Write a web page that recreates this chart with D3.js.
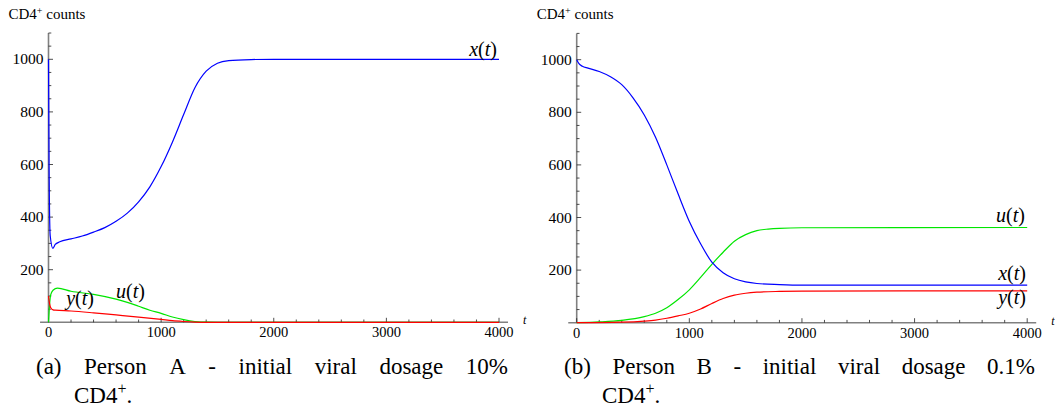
<!DOCTYPE html>
<html>
<head>
<meta charset="utf-8">
<script src="https://cdn.jsdelivr.net/npm/d3@7"></script>
<style>
  body { margin: 0; background: #fff; }
  svg { display: block; }
  text { font-family: "Liberation Serif", "Times New Roman", serif; }
</style>
</head>
<body>
<div id="chart"></div>
<script>
// Person A - initial viral dosage 10%  ([t, value] pairs)
const aX = [[0,1000],[5,600],[15,330],[39,281],[60,296],[100,306],[200,317],[300,328],[400,343],[500,360],[600,384],[700,415],[800,458],[900,515],[1000,592],[1100,685],[1200,790],[1300,892],[1400,955],[1500,985],[1600,995],[1800,999],[2000,1000],[4000,1000]];
const aU = [[0,0],[10,70],[20,105],[40,122],[80,130],[200,118],[400,106],[600,88],[700,76],[800,61],[900,46],[1000,34],[1100,20],[1200,10],[1300,3],[1400,0.5],[1500,0],[4000,0]];
const aY = [[0,100],[10,70],[20,55],[40,47],[60,46],[200,43],[400,36],[600,28],[800,20],[1000,11],[1100,6],[1200,3],[1300,1],[1400,0],[4000,0]];

// Person B - initial viral dosage 0.1%
const bX = [[0,1000],[20,985],[50,975],[100,968],[200,955],[300,935],[400,905],[500,855],[600,790],[700,705],[800,600],[900,490],[1000,385],[1100,300],[1200,230],[1300,190],[1400,167],[1500,155],[1600,149],[1800,145],[2000,143],[4000,143]];
const bU = [[0,0],[200,3],[400,9],[600,23],[700,36],[800,57],[900,88],[1000,125],[1100,172],[1200,222],[1300,268],[1400,310],[1500,335],[1600,350],[1700,356],[1800,359],[2000,361],[4000,362]];
const bY = [[0,0],[400,2],[600,6],[700,10],[800,17],[900,26],[1000,36],[1100,52],[1200,73],[1300,92],[1400,105],[1500,112],[1600,116],[1800,119],[2000,120],[4000,121]];

const xMajor = [0, 1000, 2000, 3000, 4000];
const yMajor = [200, 400, 600, 800, 1000];
const captionA = ['(a)', 'Person', 'A', '-', 'initial', 'viral', 'dosage', '10%'];
const captionB = ['(b)', 'Person', 'B', '-', 'initial', 'viral', 'dosage', '0.1%'];

const W = 1055, H = 410;

const svg = d3.select('#chart').append('svg')
    .attr('width', W).attr('height', H)
    .attr('viewBox', `0 0 ${W} ${H}`);

function fnLabel(g, x, y, name) {
    // italic name, upright parens, italic t
    const t = g.append('text')
        .attr('x', x).attr('y', y)
        .attr('text-anchor', 'end')
        .attr('font-size', 20);
    t.append('tspan').attr('font-style', 'italic').text(name);
    t.append('tspan').text('(');
    t.append('tspan').attr('font-style', 'italic').text('t');
    t.append('tspan').text(')');
}

function drawPanel(cfg) {
    const g = svg.append('g');
    const x = d3.scaleLinear().domain([0, 4000]).range([cfg.x0, cfg.x0 + 450.5]);
    const y = d3.scaleLinear().domain([0, 1000]).range([cfg.yBase, cfg.yBase - 263]);

    const axisCol = '#808080';

    // x axis line
    g.append('line')
        .attr('x1', x(-75)).attr('x2', x(4080))
        .attr('y1', y(0)).attr('y2', y(0))
        .attr('stroke', axisCol).attr('stroke-width', 1.6);
    // y axis line
    g.append('line')
        .attr('x1', x(0)).attr('x2', x(0))
        .attr('y1', y(0)).attr('y2', y(1100))
        .attr('stroke', axisCol).attr('stroke-width', 1.6);

    // x ticks (point up, inward)
    g.selectAll('.xt')
        .data(d3.range(0, 4001, 200))
        .join('line')
            .attr('x1', d => x(d)).attr('x2', d => x(d))
            .attr('y1', y(0))
            .attr('y2', d => y(0) - (d % 1000 === 0 ? 4.5 : 2.8))
            .attr('stroke', '#222').attr('stroke-width', 0.8);
    g.selectAll('.xl')
        .data(xMajor)
        .join('text')
            .attr('x', d => x(d)).attr('y', y(0) + 15)
            .attr('text-anchor', 'middle')
            .attr('font-size', 14.5)
            .text(d => d);

    // y ticks (point right, inward)
    g.selectAll('.yt')
        .data(d3.range(50, 1101, 50))
        .join('line')
            .attr('x1', x(0))
            .attr('x2', d => x(0) + (d % 200 === 0 ? 4.5 : 2.8))
            .attr('y1', d => y(d)).attr('y2', d => y(d))
            .attr('stroke', '#222').attr('stroke-width', 0.8);
    g.selectAll('.yl')
        .data(yMajor)
        .join('text')
            .attr('x', x(0) - 5).attr('y', d => y(d) + 5)
            .attr('text-anchor', 'end')
            .attr('font-size', 15.5)
            .text(d => d);

    // axis titles
    const yt = g.append('text')
        .attr('x', cfg.x0 - 40).attr('y', 19)
        .attr('font-size', 15);
    yt.append('tspan').text('CD4');
    yt.append('tspan').attr('font-size', 10).attr('dy', -5).text('+');
    yt.append('tspan').attr('dy', 5).text(' counts');

    g.append('text')
        .attr('x', x(4000) + 24).attr('y', y(0) + 2)
        .attr('font-size', 12)
        .attr('font-style', 'italic')
        .text('t');

    // curves
    const line = d3.line()
        .x(d => x(d[0])).y(d => y(d[1]))
        .curve(d3.curveMonotoneX);
    const series = [
        { data: cfg.u, color: '#00e600' },
        { data: cfg.y, color: '#ff0000' },
        { data: cfg.x, color: '#0000ff' }
    ];
    g.selectAll('.curve')
        .data(series)
        .join('path')
            .attr('d', s => line(s.data))
            .attr('fill', 'none')
            .attr('stroke', s => s.color)
            .attr('stroke-width', 1.2);

    cfg.labels.forEach(l => fnLabel(g, l.px, l.py, l.name));

    // caption, justified across the panel
    const words = cfg.caption.map(w => g.append('text')
        .attr('y', 374)
        .attr('font-size', 23)
        .text(w));
    const widths = words.map(w => w.node().getComputedTextLength());
    const total = d3.sum(widths);
    const gap = (cfg.capRight - cfg.capLeft - total) / (words.length - 1);
    let cx = cfg.capLeft;
    words.forEach((w, i) => {
        w.attr('x', cx);
        cx += widths[i] + gap;
    });
    const c2 = g.append('text')
        .attr('x', cfg.capLeft + 38).attr('y', 403)
        .attr('font-size', 23);
    c2.append('tspan').text('CD4');
    c2.append('tspan').attr('font-size', 16).attr('dy', -9).text('+');
    c2.append('tspan').attr('dy', 9).text('.');
}

drawPanel({
    x0: 48.5, yBase: 322.3,
    x: aX, u: aU, y: aY,
    caption: captionA, capLeft: 36, capRight: 508,
    labels: [
        { name: 'x', px: 497, py: 56 },
        { name: 'u', px: 145, py: 298 },
        { name: 'y', px: 94, py: 305 }
    ]
});

drawPanel({
    x0: 576.7, yBase: 322.7,
    x: bX, u: bU, y: bY,
    caption: captionB, capLeft: 564, capRight: 1035,
    labels: [
        { name: 'u', px: 1025, py: 222 },
        { name: 'x', px: 1026, py: 280 },
        { name: 'y', px: 1026, py: 304 }
    ]
});
</script>
</body>
</html>
